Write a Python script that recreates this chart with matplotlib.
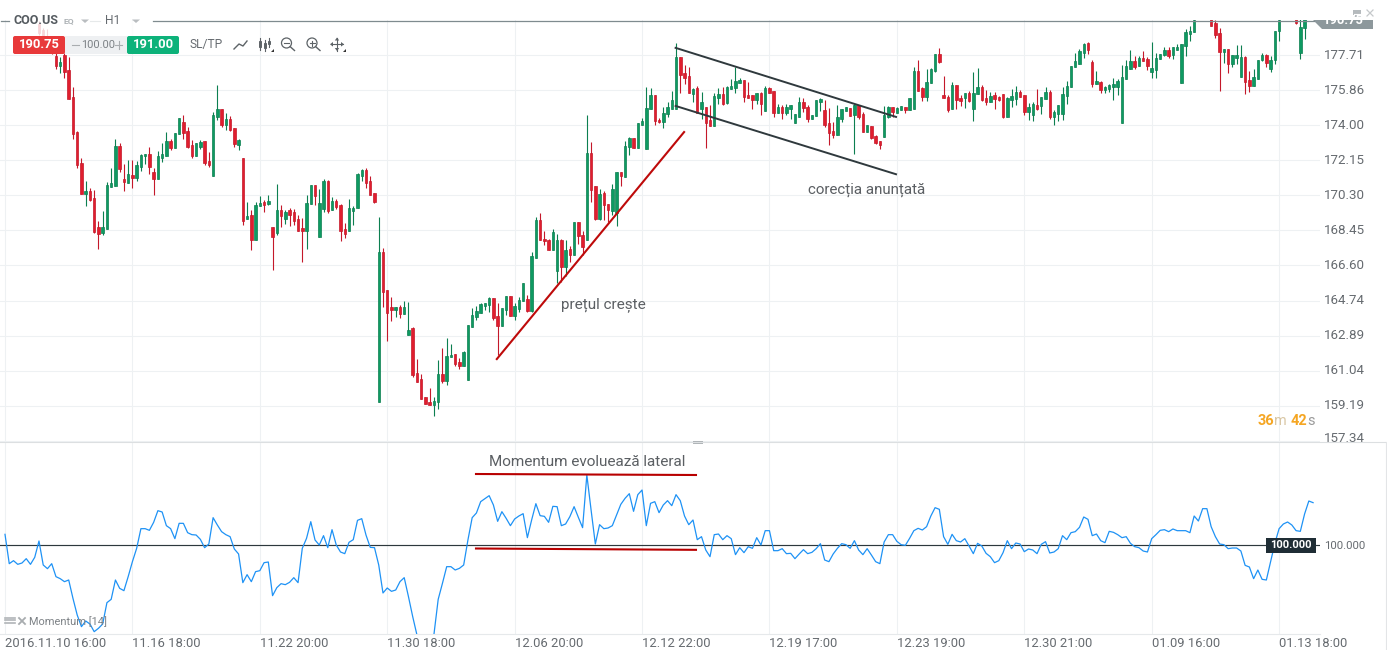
import matplotlib
matplotlib.use("Agg")
import matplotlib.pyplot as plt
from matplotlib.patches import Polygon, Rectangle, FancyBboxPatch, Circle
from matplotlib.transforms import ScaledTranslation
import numpy as np

plt.rcParams['font.family'] = ['Roboto', 'DejaVu Sans']

# ---- data, one value per hourly candle (10 per row) ----
opens = [
180.40,180.70,180.95,180.50,180.80,180.40,180.10,180.30,179.36,179.04,
178.75,178.35,177.67,177.16,177.72,176.93,175.50,173.65,172.01,170.39,
170.52,170.16,168.61,168.33,168.52,170.75,170.81,172.91,171.15,170.97,
171.36,171.24,171.82,172.37,172.47,171.54,171.19,172.30,172.40,173.18,
172.81,173.56,174.16,173.71,172.97,172.38,172.86,173.18,172.10,171.33,
174.45,174.87,174.02,174.34,173.86,172.97,172.28,169.05,169.27,167.94,
169.74,169.95,169.85,168.61,168.31,169.53,169.05,169.53,169.42,169.05,
168.58,168.42,169.85,170.85,168.10,169.58,171.06,169.53,170.00,169.79,
168.52,168.42,169.48,169.64,171.33,171.64,171.06,170.43,159.40,167.29,
165.28,164.39,164.26,164.39,164.05,162.94,163.28,160.90,160.58,159.63,
159.38,159.24,159.40,160.86,160.51,161.74,161.90,161.48,161.30,160.56,
163.36,163.89,164.07,164.47,164.53,164.86,163.91,163.38,164.26,164.97,
163.95,164.28,164.70,164.81,164.21,166.98,168.98,167.98,167.93,167.43,
166.32,167.93,166.54,167.45,167.17,168.88,168.19,167.93,172.53,170.78,
169.07,170.41,169.83,169.46,169.35,171.52,171.26,172.84,173.32,172.79,
174.04,172.74,174.85,175.59,174.27,174.17,174.59,174.85,174.88,177.62,
176.77,176.61,175.66,175.99,174.87,174.97,174.29,173.97,175.45,175.66,
175.18,175.92,175.98,176.24,176.40,175.61,175.61,175.34,175.71,174.76,
175.98,175.82,174.66,174.97,174.66,174.87,174.13,174.44,175.24,174.97,
174.34,174.50,175.24,174.81,174.13,173.70,173.49,174.34,174.76,174.92,
174.55,175.08,174.60,173.65,173.97,173.44,173.18,173.39,174.44,174.97,
174.66,174.81,174.97,174.81,174.87,176.88,175.98,175.50,176.24,176.88,
177.77,175.61,175.50,174.87,176.14,175.45,175.45,175.71,174.87,175.66,
176.03,175.45,175.24,175.61,175.50,175.66,174.44,175.34,175.40,175.77,
175.61,174.71,174.55,175.08,175.03,175.40,175.77,174.45,174.60,174.60,
175.56,176.03,177.09,177.25,177.83,178.36,177.35,176.19,176.30,175.87,
175.93,176.03,176.03,174.13,176.45,176.98,177.41,177.14,177.56,177.51,
176.82,176.93,177.51,177.72,177.99,177.72,177.99,176.24,178.20,178.83,
178.94,179.70,180.40,181.00,180.20,179.41,178.89,177.88,178.04,177.25,
177.56,176.56,177.62,176.40,176.08,176.45,177.46,177.72,176.98,177.46,
178.99,179.80,180.30,181.00,180.00,177.83,179.15,179.90,180.10]
highs = [
180.90,181.10,181.10,181.00,181.00,180.60,180.50,180.50,179.50,179.15,
179.10,178.60,177.81,177.63,177.81,177.63,176.01,173.71,172.28,171.06,
170.69,170.59,168.95,169.48,171.01,171.75,173.28,173.09,171.96,172.17,
172.17,172.12,172.47,172.49,172.86,171.75,172.65,173.07,173.65,173.26,
173.60,174.39,174.55,173.92,173.23,173.07,173.23,173.18,172.60,174.71,
176.14,174.87,174.66,174.50,173.86,173.28,172.28,169.95,169.53,169.95,
170.27,170.06,170.32,168.61,170.90,169.79,169.53,169.64,169.58,169.27,
169.11,170.32,170.85,170.85,170.64,171.17,171.11,170.22,170.11,169.85,
168.84,170.11,169.74,171.48,171.70,171.75,171.33,170.43,169.16,167.50,
165.28,164.91,164.39,164.49,164.70,164.67,163.36,161.65,160.86,159.63,
160.10,159.63,161.60,162.22,162.75,162.43,161.90,161.69,162.06,163.43,
164.33,164.44,164.60,164.60,164.91,164.86,164.60,164.33,164.97,164.97,
164.60,164.91,165.65,165.02,167.29,169.14,169.35,168.40,167.98,168.51,
168.24,167.98,167.93,167.61,168.88,168.88,168.40,174.54,173.11,170.78,
170.62,170.52,169.83,170.89,171.52,171.52,173.16,173.37,173.32,174.11,
174.38,176.02,175.96,175.59,174.38,174.96,175.22,175.80,178.34,177.62,
177.19,177.09,175.98,176.08,175.77,174.97,175.08,175.71,175.98,176.03,
176.08,176.45,177.09,176.51,176.40,176.29,175.61,175.71,175.77,176.08,
176.03,175.82,175.13,175.08,175.13,175.08,174.60,175.50,175.45,175.08,
174.55,175.34,175.45,175.34,174.92,174.18,175.08,174.87,174.97,174.92,
175.13,175.08,174.71,174.02,173.97,173.49,173.18,175.03,175.03,174.97,
174.97,175.03,174.97,175.45,177.09,177.46,176.03,176.98,177.03,177.77,
178.09,176.61,175.61,176.29,176.14,175.61,175.71,175.82,176.82,177.03,
176.14,175.87,175.77,175.77,175.55,175.66,175.50,175.92,176.08,175.87,
175.61,175.18,175.24,175.93,175.50,176.03,175.87,174.82,175.08,176.03,
176.35,177.14,177.83,178.04,178.36,178.41,177.46,176.88,176.35,176.08,
176.19,176.51,176.45,177.19,177.46,177.99,177.67,177.67,177.93,177.62,
178.41,177.83,177.78,178.15,178.15,178.15,178.30,178.30,179.10,179.26,
179.93,180.90,181.20,181.30,180.40,179.57,179.15,178.04,178.04,177.72,
178.25,178.25,177.67,176.88,176.98,177.46,177.83,177.78,177.67,178.99,
179.60,181.10,181.20,181.20,180.30,179.60,179.93,181.00,181.20]
lows = [
180.10,180.50,180.30,180.20,180.10,179.95,179.90,179.75,178.80,178.60,
178.30,177.75,176.98,176.75,176.49,175.41,173.26,171.77,170.39,169.76,
170.00,168.33,167.49,168.21,168.52,170.73,170.81,171.52,170.53,170.96,
170.69,171.08,171.59,171.96,171.43,170.32,171.17,172.07,172.38,172.70,
172.81,173.55,173.28,172.81,172.28,172.38,172.75,171.91,171.80,171.33,
174.29,173.92,173.76,173.71,172.86,172.70,168.74,169.05,167.42,167.94,
169.74,169.42,169.79,166.36,168.21,168.63,168.79,168.68,168.74,168.42,
166.78,167.47,169.85,169.79,168.10,169.42,169.37,169.53,169.58,167.89,
168.05,168.42,168.74,169.64,171.06,170.69,170.32,169.90,159.40,164.42,
162.62,163.68,163.89,163.84,164.05,162.94,160.72,160.46,159.56,159.29,
159.24,158.66,159.03,160.40,160.30,161.74,161.30,161.14,161.30,160.56,
163.36,163.73,164.07,164.23,164.16,163.73,161.85,163.38,163.96,163.95,
163.73,164.12,164.70,164.12,164.16,166.98,167.93,167.66,167.43,167.43,
165.65,165.74,166.04,166.78,167.17,167.75,167.17,167.93,169.94,169.02,
168.98,168.98,168.88,169.25,168.70,170.80,171.26,172.42,172.79,172.79,
174.01,172.74,174.85,174.01,174.11,173.85,174.43,174.85,174.88,175.71,
176.19,175.71,175.24,174.66,174.34,172.81,173.97,173.97,175.13,175.08,
175.13,175.92,175.71,176.24,175.24,175.45,174.87,175.13,174.55,174.76,
175.71,174.44,174.66,174.34,174.55,174.34,174.13,174.44,174.71,174.18,
174.34,174.50,174.76,173.92,172.96,173.33,173.49,174.18,174.76,174.50,
172.49,174.34,173.65,173.65,173.28,173.02,172.75,173.39,174.39,174.44,
174.66,174.81,174.66,174.81,174.87,175.82,175.29,175.29,176.24,176.82,
177.30,175.45,174.71,174.87,174.87,175.03,174.92,175.24,174.23,175.66,
175.29,175.08,175.24,174.87,175.29,174.39,174.44,174.97,175.08,175.50,
174.55,174.29,174.23,174.82,174.60,175.40,174.34,174.02,174.23,174.29,
175.13,176.03,177.09,177.25,177.56,177.78,176.03,176.19,175.71,175.71,
175.77,175.34,175.61,174.13,176.45,176.98,176.98,177.14,177.41,176.93,
176.51,176.51,177.51,177.67,177.56,177.51,177.99,176.24,177.67,178.46,
178.94,179.60,180.20,180.00,179.26,178.62,175.82,177.30,176.77,177.09,
177.25,176.56,175.66,175.77,176.08,176.45,177.41,177.09,176.82,177.25,
178.46,179.70,180.20,180.90,179.38,177.51,178.57,179.75,180.00]
closes = [
180.70,180.95,180.50,180.80,180.40,180.10,180.30,179.90,178.89,178.73,
178.40,177.85,177.16,177.34,176.84,175.41,173.55,171.91,170.39,170.52,
170.06,168.37,168.26,168.61,170.83,170.96,172.91,171.70,171.03,171.43,
171.24,171.91,172.44,172.49,171.82,171.19,172.38,172.49,173.18,172.81,
173.58,174.38,173.60,172.86,172.38,173.07,173.12,172.01,171.89,174.55,
174.87,174.02,174.34,173.76,173.02,173.23,168.95,169.21,167.94,169.79,
169.90,169.79,170.00,168.10,169.53,169.21,169.42,169.27,168.95,168.42,
168.42,169.90,170.85,170.27,169.90,171.06,169.48,170.00,169.69,168.42,
168.26,169.64,169.64,171.45,171.64,170.96,170.32,169.95,167.29,165.21,
164.07,164.26,164.39,164.05,164.39,163.17,160.83,160.46,159.56,159.29,
159.24,159.42,160.86,160.51,161.80,161.85,161.41,161.30,162.01,163.43,
163.96,164.17,164.54,164.60,164.86,163.80,163.42,164.33,164.97,163.95,
164.44,164.76,165.65,164.21,167.08,168.98,167.93,167.87,167.43,168.35,
167.93,166.54,167.40,167.17,168.88,168.14,167.59,172.53,170.61,169.07,
170.36,169.78,169.51,170.62,171.52,171.31,172.90,173.32,172.79,174.11,
174.22,174.90,175.59,174.22,174.17,174.64,174.96,175.33,177.62,176.66,
176.51,175.71,175.92,174.66,175.24,174.13,173.97,175.55,175.66,175.13,
176.03,176.08,176.35,176.40,175.50,175.45,175.34,175.71,175.13,175.98,
175.71,174.66,174.97,174.66,174.97,175.08,174.60,175.24,174.92,174.34,
174.55,175.34,175.40,174.02,173.60,173.49,174.44,174.87,174.97,174.50,
175.08,174.44,173.65,174.02,173.33,173.07,172.96,174.55,174.97,174.71,
174.92,175.03,174.81,175.45,176.88,175.82,175.50,176.29,176.98,177.77,
177.35,175.45,174.81,176.14,175.34,175.29,175.71,175.29,175.71,176.03,
175.34,175.24,175.55,175.40,175.34,174.44,175.45,175.55,175.77,175.50,
174.71,174.97,175.13,174.87,175.50,175.77,174.45,174.71,175.08,175.66,
176.08,177.14,177.41,177.93,178.30,177.99,176.19,176.35,175.87,176.03,
176.14,176.19,176.35,176.56,177.14,177.41,177.09,177.56,177.41,177.14,
177.04,177.56,177.78,177.99,177.67,178.15,178.15,178.30,178.94,178.99,
179.57,180.60,181.00,180.30,179.26,178.78,177.88,178.04,177.25,177.72,
177.72,177.62,176.30,176.08,176.56,177.46,177.72,177.30,177.46,178.99,
179.57,180.80,181.00,180.30,179.41,179.20,179.90,180.60,180.80]
momentum = [
100.66,98.90,99.08,98.86,98.94,99.20,98.86,99.28,100.26,98.82,
98.60,98.90,98.12,98.00,97.82,97.92,96.82,95.82,95.12,95.46,
95.28,94.82,95.02,95.28,96.56,96.76,97.92,97.42,97.28,98.12,
99.02,99.82,101.00,101.00,100.90,101.38,102.08,102.00,101.18,101.00,
100.40,101.32,101.32,100.76,100.64,100.62,100.36,99.86,100.08,101.66,
101.22,100.82,100.64,100.52,99.78,99.48,97.76,98.24,97.82,98.42,
98.48,98.96,99.00,96.98,97.46,97.70,97.64,97.78,98.06,97.76,
99.82,100.42,101.42,100.32,100.02,100.58,99.86,100.94,100.02,99.60,
99.50,100.18,100.34,101.50,101.60,100.62,99.88,99.86,98.82,97.14,
97.44,97.24,97.32,97.82,98.06,96.92,95.72,94.62,93.52,92.72,
93.52,94.66,96.76,97.72,98.72,98.72,98.52,98.62,98.82,100.32,
101.66,101.94,102.62,102.80,102.98,102.42,101.44,102.02,101.62,101.18,
101.58,101.76,101.90,100.46,101.52,102.50,101.78,101.74,101.38,102.34,
102.32,101.18,101.28,101.72,102.32,101.68,101.06,104.22,102.12,100.08,
101.24,101.00,101.04,101.18,101.82,102.46,102.82,103.10,102.04,103.04,
103.32,101.18,102.52,102.62,101.96,102.42,102.68,102.38,103.04,102.68,
101.76,101.24,101.52,100.34,100.52,99.72,99.32,100.64,100.68,100.34,
100.58,100.40,99.44,99.86,99.56,99.92,99.82,100.46,100.02,100.88,
100.88,99.68,99.68,99.80,99.50,99.52,99.20,99.48,99.74,99.50,
99.58,99.80,100.10,99.12,99.02,99.48,99.82,100.10,100.04,99.82,
100.28,99.72,99.44,99.80,99.42,99.02,98.90,100.20,100.64,100.64,
100.24,100.04,100.00,100.42,100.88,101.02,100.92,101.12,101.76,102.26,
102.16,100.52,100.06,100.66,100.28,100.20,100.40,99.96,99.50,100.12,
99.96,99.52,99.32,98.96,99.08,99.56,100.28,99.80,100.14,100.08,
99.62,99.78,99.72,99.50,100.06,100.22,99.54,99.60,99.80,100.58,
100.34,100.76,100.82,101.08,101.70,101.56,100.58,100.68,100.28,100.16,
100.84,100.78,100.64,100.46,100.52,100.12,99.92,99.86,99.66,99.60,
100.40,100.64,100.90,100.94,100.82,100.98,100.88,100.88,100.88,100.76,
101.76,101.46,102.20,102.20,101.12,100.52,100.08,100.04,99.80,99.84,
99.84,99.66,98.80,98.70,98.00,98.52,97.96,97.92,99.02,100.12,
101.00,101.28,101.40,101.22,100.88,100.84,101.88,102.66,102.56]

price_ticks = [177.71,175.86,174.00,172.15,170.30,168.45,166.60,164.74,162.89,161.04,159.19,157.34]
time_tick_pos = [0,30,60,90,120,150,180,210,240,270,300]
time_tick_labels = ["2016.11.10 16:00","11.16 18:00","11.22 20:00","11.30 18:00","12.06 20:00",
                    "12.12 22:00","12.19 17:00","12.23 19:00","12.30 21:00","01.09 16:00","01.13 18:00"]
rise_line_x, rise_line_y = [115.8, 159.9], [161.65, 173.65]
chan_up_x, chan_up_y = [157.9, 209.8], [178.10, 174.45]
chan_lo_x, chan_lo_y = [157.9, 209.8], [175.03, 171.42]
mom_up_x, mom_up_y = [110.9, 162.7], [104.28, 104.22]
mom_lo_x, mom_lo_y = [110.9, 162.7], [99.81, 99.73]

assert len(opens) == len(highs) == len(lows) == len(closes) == len(momentum) == 309

W, H = 1387, 650
fig = plt.figure(figsize=(W/100, H/100), dpi=100, facecolor='white')
PX = 4.247                     # pixels per candle on the time axis
xlim = (-5/PX, (1320-5)/PX)

def panel(top, bottom):
    return fig.add_axes([0, 1-bottom/H, 1320/W, (bottom-top)/H])

GRID = '#eef1f3'; TXT = '#666b70'
ax = panel(20, 442)
ax2 = panel(442, 634)
for a in (ax, ax2):
    a.set_xlim(*xlim)
    a.set_xticks(time_tick_pos)
    a.grid(True, axis='x', color=GRID, lw=0.8, zorder=0)
    a.set_axisbelow(True)
    for s in a.spines.values():
        s.set_visible(False)
    a.yaxis.tick_right()
    a.tick_params(length=0, labelcolor=TXT)

# price panel
ax.set_ylim(157.266, 179.573)
ax.set_yticks(price_ticks)
ax.set_yticklabels([f"{v:.2f}" for v in price_ticks], fontsize=9.6)
ax.tick_params(axis='y', pad=2.8)
ax.grid(True, axis='y', color=GRID, lw=0.8, zorder=0)
ax.set_xticklabels([])
for i, lab in enumerate(ax.get_yticklabels()):
    dy = -4/100 if i == len(price_ticks)-1 else -1.5/100
    lab.set_transform(lab.get_transform() + ScaledTranslation(0, -dy, fig.dpi_scale_trans))

o, h, l, c = map(np.array, (opens, highs, lows, closes))
x = np.arange(len(o))
up = c >= o
G_F, G_E, R_F, R_E = '#0E9A62', '#0C7F50', '#E01E2E', '#C4182A'
ax.vlines(x[up], l[up], h[up], color=G_E, lw=0.8, zorder=2)
ax.vlines(x[~up], l[~up], h[~up], color=R_E, lw=0.8, zorder=2)
ax.bar(x[up], (c-o)[up], bottom=o[up], width=0.58, color=G_F, edgecolor=G_E, lw=0.5, zorder=3)
ax.bar(x[~up], (o-c)[~up], bottom=c[~up], width=0.58, color=R_F, edgecolor=R_E, lw=0.5, zorder=3)

ax.plot(rise_line_x, rise_line_y, color='#BE0A0A', lw=1.5, zorder=4)
ax.plot(chan_up_x, chan_up_y, color='#2F393D', lw=1.4, zorder=4)
ax.plot(chan_lo_x, chan_lo_y, color='#2F393D', lw=1.4, zorder=4)

# momentum panel
ax2.set_ylim(94.68, 106.20)
ax2.set_yticks([100])
ax2.set_yticklabels(["100.000"], fontsize=8.2)
ax2.tick_params(axis='y', pad=3)
ax2.set_xticklabels(time_tick_labels, fontsize=9.4, ha='left')
ax2.tick_params(axis='x', pad=2.5)
ax2.spines['bottom'].set_visible(True)
ax2.spines['bottom'].set_color('#e6e9eb')
ax2.axhline(100, color='#2D383D', lw=0.85, zorder=2)
ax2.plot(x, momentum, color='#1E92F5', lw=0.9, zorder=3)
ax2.plot(mom_up_x, mom_up_y, color='#B80000', lw=1.5, zorder=4)
ax2.plot(mom_lo_x, mom_lo_y, color='#B80000', lw=1.5, zorder=4)

# overlay in figure pixels for the platform chrome and notes
ov = fig.add_axes([0, 0, 1, 1], zorder=10)
ov.set_xlim(0, W); ov.set_ylim(H, 0); ov.axis('off'); ov.patch.set_alpha(0)
fs = lambda px: px*0.72

# header
ov.add_patch(Rectangle((12, 21), 170, 16, color='white', alpha=0.82, lw=0))
ov.plot([153, 1314], [20.5, 20.5], color='#7F8B8F', lw=0.9)
ov.plot([1, 9], [20.5, 20.5], color='#7F8B8F', lw=0.9)
ov.plot([90, 100], [20.5, 20.5], color='#e6e9ea', lw=0.8)
ov.text(13, 20.5, "COO.US", fontsize=fs(12.5), weight='bold', color='#555b60', va='center')
ov.text(63, 20.5, "EQ", fontsize=fs(8.5), weight='bold', color='#aeb3b6', va='center')
ov.text(105, 20.5, "H1", fontsize=fs(12), color='#666b70', va='center')
for tx in (85, 136):
    ov.add_patch(Polygon([[tx-4, 19.5], [tx+4, 19.5], [tx, 23]], color='#b9bdc0', lw=0))
ov.add_patch(Polygon([[1313, 19.5], [1373, 19.5], [1373, 28.7], [1322, 28.7]], color='#8D989C', lw=0))
ov.text(1343, 21, "190.75", fontsize=fs(13), weight='bold', color='white', va='center', ha='center')
ov.add_patch(Rectangle((1353, 9.5), 8, 7, color='#b5babd', lw=0))
ov.plot([1354, 1360], [14, 14], color='white', lw=0.8)
ov.plot([1367, 1373], [10, 16], color='#c5c9cb', lw=0.9)
ov.plot([1367, 1373], [16, 10], color='#c5c9cb', lw=0.9)

# trade box
ov.add_patch(Rectangle((65, 36), 62, 18, color='#eef0f2', lw=0))
ov.add_patch(FancyBboxPatch((13, 36), 52, 18, boxstyle="round,pad=0,rounding_size=2", color='#E8393A', lw=0))
ov.add_patch(FancyBboxPatch((127, 36), 52, 18, boxstyle="round,pad=0,rounding_size=2", color='#0DB27A', lw=0))
ov.text(39, 44.5, "190.75", fontsize=fs(13), weight='bold', color='white', ha='center', va='center')
ov.text(153, 44.5, "191.00", fontsize=fs(13), weight='bold', color='white', ha='center', va='center')
ov.text(98, 45, "100.00", fontsize=fs(11), color='#7c8185', ha='center', va='center')
ov.plot([72, 79], [45, 45], color='#a9adb0', lw=0.8)
ov.plot([115, 122], [45, 45], color='#a9adb0', lw=0.8)
ov.plot([118.5, 118.5], [41, 49], color='#a9adb0', lw=0.8)
ov.text(189, 44.5, "SL/TP", fontsize=fs(12), color='#666b70', va='center')

# toolbar icons
IC = '#5d6367'
ov.plot([234, 239, 243, 247], [49, 44, 46, 41], color=IC, lw=1.0)
for ix, t, b in ((260, 38, 50), (265, 40, 51), (269, 38, 47)):
    ov.plot([ix, ix], [t, b], color=IC, lw=0.8)
    ov.add_patch(Rectangle((ix-1.3, t+3), 2.6, (b-t)-6, fill=False, ec=IC, lw=0.7))
for cx, plus in ((286.5, False), (312, True)):
    ov.add_patch(Circle((cx, 43), 5, fill=False, ec=IC, lw=0.9))
    ov.plot([cx+3.6, cx+8], [46.6, 50.5], color=IC, lw=1.0)
    ov.plot([cx-2.5, cx+2.5], [43, 43], color=IC, lw=0.8)
    if plus:
        ov.plot([cx, cx], [40.5, 45.5], color=IC, lw=0.8)
ov.plot([331, 343], [44.3, 44.3], color=IC, lw=0.8)
ov.plot([337, 337], [38, 50.5], color=IC, lw=0.8)
for pts in ([[330, 44.3], [333, 42], [333, 46.6]], [[344, 44.3], [341, 42], [341, 46.6]],
            [[337, 37.5], [334.8, 40.5], [339.2, 40.5]], [[337, 51], [334.8, 48], [339.2, 48]]):
    ov.add_patch(Polygon(pts, color=IC, lw=0))
for px_, py_ in ((273, 52), (345, 52)):
    ov.add_patch(Polygon([[px_-2, py_], [px_+1, py_], [px_+1, py_-3]], color='#333', lw=0))

# notes
NOTE = '#5b5f63'
ov.text(603.5, 305, "prețul crește", fontsize=fs(15.2), color=NOTE, ha='center', va='center')
ov.text(867, 190, "corecția anunțată", fontsize=fs(15.1), color=NOTE, ha='center', va='center')
ov.text(587, 462, "Momentum evoluează lateral", fontsize=fs(15.2), color=NOTE, ha='center', va='center')

# countdown
ov.text(1258, 421, "36", fontsize=fs(14.5), weight='bold', color='#F5A623', va='center')
ov.text(1274, 421, "m", fontsize=fs(14.5), color='#d9c7a5', va='center')
ov.text(1291, 421, "42", fontsize=fs(14.5), weight='bold', color='#F5A623', va='center')
ov.text(1307, 421, "s", fontsize=fs(14.5), color='#9a9a9a', va='center')

# panel separators
ov.plot([0, 1385], [442, 442], color='#dcdfe1', lw=0.8)
ov.add_patch(Rectangle((693, 441), 10, 2.5, color='#aeb3b6', lw=0))
ov.plot([1385.5, 1385.5], [442, 650], color='#e3e5e7', lw=0.8)

# 100.000 badge
ov.add_patch(Rectangle((1266, 538), 50, 15, color='#1F2D35', lw=0))
ov.text(1291, 545.5, "100.000", fontsize=fs(11.3), weight='bold', color='white', ha='center', va='center')

# indicator label
for iy in (617.5, 620, 622.5):
    ov.plot([5, 15], [iy, iy], color='#b0b4b7', lw=1.2)
ov.plot([19, 25], [618, 624], color='#a8acaf', lw=1.3)
ov.plot([19, 25], [624, 618], color='#a8acaf', lw=1.3)
ov.text(29, 621.5, "Momentum [14]", fontsize=fs(11), color='#7d8286', va='center')

fig.savefig("out.png", dpi=100)
